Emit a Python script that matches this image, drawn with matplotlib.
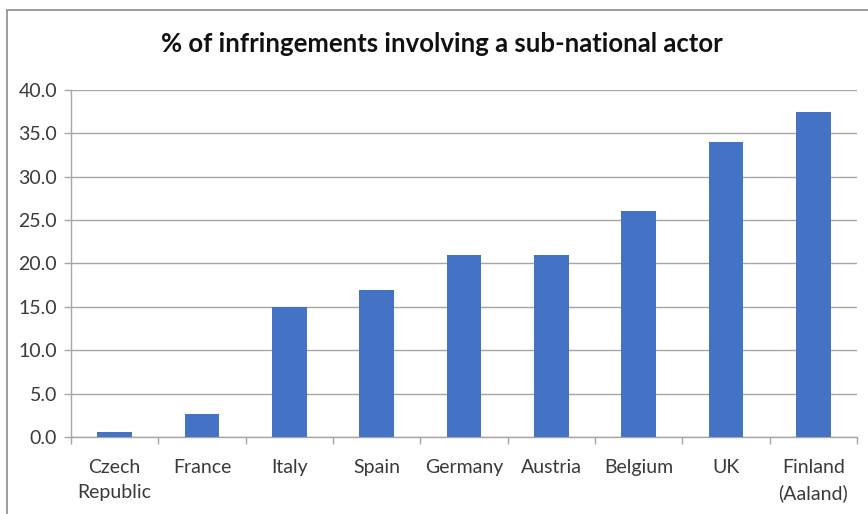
import matplotlib
matplotlib.use("Agg")
import matplotlib.pyplot as plt
from matplotlib.patches import Rectangle
import numpy as np

countries = ["Czech\nRepublic", "France", "Italy", "Spain", "Germany",
             "Austria", "Belgium", "UK", "Finland\n(Aaland)"]
shares = [0.6, 2.6, 15.0, 17.0, 21.0, 21.0, 26.0, 34.0, 37.5]
yticks = [0, 5, 10, 15, 20, 25, 30, 35, 40]
title = "% of infringements involving a sub-national actor"

plt.rcParams["font.family"] = ["Lato", "DejaVu Sans"]

W, H = 868, 514
fig = plt.figure(figsize=(W / 100, H / 100), dpi=100)

# chart-area border (left and top edges visible)
fig.patches.append(Rectangle((6.5 / W, -0.2), 1.5, 1.2 - 9.5 / H,
                             transform=fig.transFigure, fill=False,
                             edgecolor="#8c8c8c", linewidth=1.2))

ax = fig.add_axes([71 / W, 1 - 437 / H, (857 - 71) / W, (437 - 90) / H])

x = np.arange(len(countries))
ax.bar(x, shares, width=0.4, color="#4472C4", zorder=3)

ax.set_xlim(-0.5, len(countries) - 0.5)
ax.set_ylim(0, 40)
ax.set_yticks(yticks)
ax.set_yticklabels([f"{v:.1f}" for v in yticks])
ax.yaxis.grid(True, color="#a6a6a6", linewidth=1.0, zorder=0)

ax.set_xticks(x)
ax.set_xticklabels(countries, linespacing=1.55)
ax.set_xticks(np.arange(-0.5, len(countries), 1.0), minor=True)
ax.tick_params(axis="x", which="major", length=0, pad=16, labelsize=14, colors="#3a3a3a")
ax.tick_params(axis="x", which="minor", length=5, width=1, color="#a6a6a6")
ax.tick_params(axis="y", length=5, width=1, color="#a6a6a6", pad=5,
               labelsize=14, labelcolor="#3a3a3a")

for s in ("top", "right"):
    ax.spines[s].set_visible(False)
for s in ("left", "bottom"):
    ax.spines[s].set_color("#a6a6a6")
    ax.spines[s].set_linewidth(1.0)

fig.text(442 / W, 1 - 44 / H, title, ha="center", va="center",
         fontsize=18.5, fontweight="bold", color="#111111")

fig.savefig("out.png", dpi=100, facecolor="white")
